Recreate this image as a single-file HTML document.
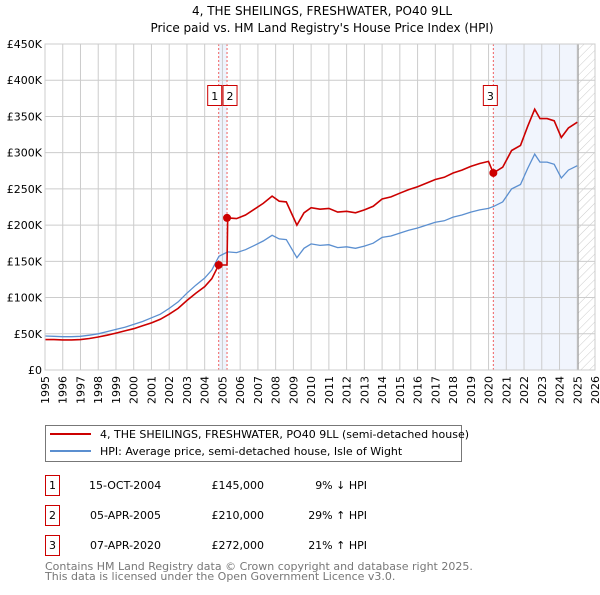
<!DOCTYPE html>
<html><head><meta charset="utf-8"><style>
body{margin:0;background:#fff;width:600px;height:590px;overflow:hidden}
svg{font-family:"DejaVu Sans","Liberation Sans",sans-serif}
</style></head><body>
<svg id="c" width="600" height="590" xmlns="http://www.w3.org/2000/svg">
<defs><pattern id="hatch" width="6" height="6" patternUnits="userSpaceOnUse" patternTransform="rotate(45)"><line x1="0" y1="0" x2="0" y2="6" stroke="#ccc" stroke-width="1"/></pattern></defs>
<text x="322" y="15" text-anchor="middle" font-size="12">4, THE SHEILINGS, FRESHWATER, PO40 9LL</text>
<text x="322" y="32" text-anchor="middle" font-size="12">Price paid vs. HM Land Registry's House Price Index (HPI)</text>
<g id="plot"></g>
<g>
<rect x="45.5" y="425.5" width="416" height="36" fill="#fff" stroke="#777"/>
<line x1="50" y1="434" x2="91" y2="434" stroke="#cc0000" stroke-width="2"/>
<text x="100" y="438" font-size="11">4, THE SHEILINGS, FRESHWATER, PO40 9LL (semi-detached house)</text>
<line x1="50" y1="451" x2="91" y2="451" stroke="#5b8fd0" stroke-width="2"/>
<text x="100" y="455" font-size="11">HPI: Average price, semi-detached house, Isle of Wight</text>
</g>
<g font-size="11">
<rect x="45.5" y="475.5" width="14" height="20" fill="none" stroke="#cc0000"/><text x="52.5" y="489" text-anchor="middle">1</text>
<text x="89" y="489">15-OCT-2004</text><text x="264" y="489" text-anchor="end">£145,000</text><text x="367" y="489" text-anchor="end">9% ↓ HPI</text>
<rect x="45.5" y="505.5" width="14" height="20" fill="none" stroke="#cc0000"/><text x="52.5" y="519" text-anchor="middle">2</text>
<text x="90" y="519">05-APR-2005</text><text x="264" y="519" text-anchor="end">£210,000</text><text x="367" y="519" text-anchor="end">29% ↑ HPI</text>
<rect x="45.5" y="535.5" width="14" height="20" fill="none" stroke="#cc0000"/><text x="52.5" y="549" text-anchor="middle">3</text>
<text x="90" y="549">07-APR-2020</text><text x="264" y="549" text-anchor="end">£272,000</text><text x="367" y="549" text-anchor="end">21% ↑ HPI</text>
</g>
<text x="45" y="570" font-size="11" fill="#777">Contains HM Land Registry data © Crown copyright and database right 2025.</text>
<text x="45" y="580" font-size="11" fill="#777">This data is licensed under the Open Government Licence v3.0.</text>
</svg>
<script>
const years=[1995,1996,1997,1998,1999,2000,2001,2002,2003,2004,2005,2006,2007,2008,2009,2010,2011,2012,2013,2014,2015,2016,2017,2018,2019,2020,2021,2022,2023,2024,2025,2026];
const yTicks=[0,50000,100000,150000,200000,250000,300000,350000,400000,450000];
const yLabels=["£0","£50K","£100K","£150K","£200K","£250K","£300K","£350K","£400K","£450K"];
const hpiDates=[1995,1995.5,1996,1996.5,1997,1997.5,1998,1998.5,1999,1999.5,2000,2000.5,2001,2001.5,2002,2002.5,2003,2003.5,2004,2004.4,2004.8,2005.3,2005.8,2006.3,2006.8,2007.3,2007.8,2008.2,2008.6,2009.2,2009.6,2010,2010.5,2011,2011.5,2012,2012.5,2013,2013.5,2014,2014.5,2015,2015.5,2016,2016.5,2017,2017.5,2018,2018.5,2019,2019.5,2020,2020.3,2020.8,2021.3,2021.8,2022.2,2022.6,2022.9,2023.3,2023.7,2024.1,2024.5,2025];
const hpiValues=[47000,46500,46000,46000,46500,48000,50000,53000,56000,59000,63000,67000,72000,77000,85000,94000,106000,117000,127000,138000,157000,163000,162000,166000,172000,178000,186000,181000,180000,155000,168000,174000,172000,173000,169000,170000,168000,171000,175000,183000,185000,189000,193000,196000,200000,204000,206000,211000,214000,218000,221000,223000,226000,232000,250000,256000,278000,298000,287000,287000,284000,265000,276000,282000];
const redDates=[1995,1995.5,1996,1996.5,1997,1997.5,1998,1998.5,1999,1999.5,2000,2000.5,2001,2001.5,2002,2002.5,2003,2003.5,2004,2004.4,2004.79,2005.26,2005.3,2005.8,2006.3,2006.8,2007.3,2007.8,2008.2,2008.6,2009.2,2009.6,2010,2010.5,2011,2011.5,2012,2012.5,2013,2013.5,2014,2014.5,2015,2015.5,2016,2016.5,2017,2017.5,2018,2018.5,2019,2019.5,2020,2020.27,2020.8,2021.3,2021.8,2022.2,2022.6,2022.9,2023.3,2023.7,2024.1,2024.5,2025];
const redValues=[42000,42000,41500,41500,42000,43500,45500,48000,51000,54000,57000,61000,65000,70000,77000,85000,96000,106000,115000,126000,145000,145000,210000,209000,214000,222000,230000,240000,233000,232000,200000,217000,224000,222000,223000,218000,219000,217000,221000,226000,236000,239000,244000,249000,253000,258000,263000,266000,272000,276000,281000,285000,288000,272000,280000,303000,310000,336000,360000,347000,347000,344000,321000,334000,342000];
const saleDates=[2004.79,2005.26,2020.27];
const salePrices=[145000,210000,272000];
const saleLabels=["1","2","3"];
const NS="http://www.w3.org/2000/svg";
const X0=45,X1=595,Y0=370,Y1=44;
const xs=t=>X0+(t-1995)/(2026-1995)*(X1-X0);
const ys=v=>Y0-v/450000*(Y0-Y1);
const g=document.getElementById('plot');
function mk(tag,attrs,parent){const e=document.createElementNS(NS,tag);for(const k in attrs)e.setAttribute(k,attrs[k]);(parent||g).appendChild(e);return e;}
let sh=mk('rect',{x:xs(2020.27),y:Y1,width:xs(2025.05)-xs(2020.27),height:Y0-Y1,fill:'#eef3fc',opacity:0.8});


let sh2=mk('rect',{x:xs(2004.79),y:Y1,width:xs(2005.26)-xs(2004.79),height:Y0-Y1,fill:'#eef3fc'});


let ht=mk('rect',{x:xs(2025.05),y:Y1,width:X1-xs(2025.05),height:Y0-Y1,fill:'url(#hatch)'});


years.forEach(y=>{
 const l=mk('line',{x1:xs(y),x2:xs(y),y1:Y1,y2:Y0,stroke:'#ccc','stroke-width':1});
 
 
 const tx=xs(y)+4, ty=Y0+6;
 const t=mk('text',{x:tx,y:ty,'text-anchor':'end','font-size':11,transform:'rotate(-90 '+tx+' '+ty+')'});
 
 
 t.textContent=y;
});
yTicks.forEach((v,i)=>{
 const l=mk('line',{x1:X0,x2:X1,y1:ys(v),y2:ys(v),stroke:'#ccc','stroke-width':1});
 
 
 const t=mk('text',{x:X0-3,y:ys(v)+4,'text-anchor':'end','font-size':11});
 
 
 t.textContent=yLabels[i];
});
let ed=mk('line',{x1:xs(2025.05),x2:xs(2025.05),y1:Y1,y2:Y0,stroke:'#999','stroke-width':1});


saleDates.forEach((d,i)=>{
 const l=mk('line',{x1:xs(d),x2:xs(d),y1:Y1,y2:Y0,stroke:'#f06060','stroke-width':1,'stroke-dasharray':'2,2'});
 
 
});
function path(dates,vals,color,name,w){
 const p=mk('path',{d:dates.map((d,i)=>(i?'L':'M')+xs(d).toFixed(1)+','+ys(vals[i]).toFixed(1)).join(''),fill:'none',stroke:color,'stroke-width':w});
 
 
}
path(hpiDates,hpiValues,'#5b8fd0','hpi-line',1.3);
path(redDates,redValues,'#cc0000','property-price-line',1.6);
saleDates.forEach((d,i)=>{
 const c=mk('circle',{cx:xs(d),cy:ys(salePrices[i]),r:4,fill:'#cc0000'});
 
 
});
const lblX=[xs(saleDates[0])-4,xs(saleDates[1])+3,xs(saleDates[2])-3];
saleLabels.forEach((s,i)=>{
 const r=mk('rect',{x:lblX[i]-7,y:85.5,width:14,height:20,fill:'#fff',stroke:'#cc0000'});
 
 
 const t=mk('text',{x:lblX[i],y:100,'text-anchor':'middle','font-size':11});
 
 
 t.textContent=s;
});
let fr=mk('rect',{x:X0,y:Y1,width:X1-X0,height:Y0-Y1,fill:'none',stroke:'#ccc'});


</script>
</body></html>
